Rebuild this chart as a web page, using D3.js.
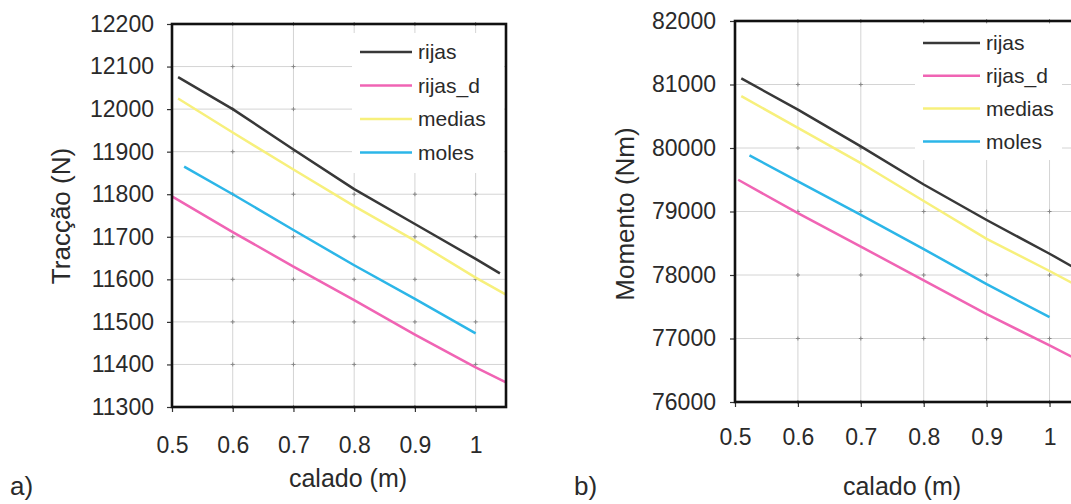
<!DOCTYPE html>
<html>
<head>
<meta charset="utf-8">
<script src="https://cdn.jsdelivr.net/npm/d3@7"></script>
<style>
  html, body { margin: 0; padding: 0; background: #fff; }
  svg { display: block; font-family: "Liberation Sans", Arial, sans-serif; }
</style>
</head>
<body>
<svg id="chart" width="1071" height="504"></svg>
<script>
// ---------- DATA ----------
const seriesNames = ["rijas", "rijas_d", "medias", "moles"];
const seriesColors = ["#383838", "#f064b4", "#f7f07c", "#2cb6e8"];
const xTickValues = [0.5, 0.6, 0.7, 0.8, 0.9, 1];
const tracTicks = [11300, 11400, 11500, 11600, 11700, 11800, 11900, 12000, 12100, 12200];
const momTicks = [76000, 77000, 78000, 79000, 80000, 81000, 82000];

// a) Tracção (N) vs calado (m)
const tracRijas  = [[0.51, 12075], [0.6, 12000], [0.7, 11905], [0.8, 11812], [0.9, 11730], [1.0, 11648], [1.04, 11614]];
const tracRijasD = [[0.5, 11795], [0.6, 11711], [0.7, 11630], [0.8, 11551], [0.9, 11470], [1.0, 11393], [1.05, 11358]];
const tracMedias = [[0.51, 12025], [0.6, 11945], [0.7, 11858], [0.8, 11772], [0.9, 11691], [1.0, 11604], [1.05, 11564]];
const tracMoles  = [[0.52, 11865], [0.6, 11800], [0.7, 11716], [0.8, 11633], [0.9, 11554], [1.0, 11473]];

// b) Momento (Nm) vs calado (m)
const momRijas  = [[0.51, 81095], [0.6, 80605], [0.7, 80026], [0.8, 79425], [0.9, 78866], [1.0, 78335], [1.05, 78055]];
const momRijasD = [[0.505, 79500], [0.6, 78974], [0.7, 78447], [0.8, 77916], [0.9, 77384], [1.0, 76890], [1.05, 76640]];
const momMedias = [[0.51, 80816], [0.6, 80316], [0.7, 79763], [0.8, 79165], [0.9, 78570], [1.0, 78063], [1.05, 77800]];
const momMoles  = [[0.523, 79884], [0.6, 79474], [0.7, 78947], [0.8, 78408], [0.9, 77855], [1.0, 77335]];

// ---------- DRAW ----------
const svg = d3.select("#chart");

function drawChart(cfg) {
  const g = svg.append("g");
  const x = d3.scaleLinear().domain([0.5, 1.05]).range([cfg.left, cfg.right]);
  const y = d3.scaleLinear().domain(cfg.yDomain).range([cfg.bottom, cfg.top]);

  // gridlines
  const grid = g.append("g");
  grid.selectAll("line.gy").data(cfg.yTicks.slice(1, -1)).join("line")
    .attr("x1", cfg.left).attr("x2", cfg.right)
    .attr("y1", d => y(d)).attr("y2", d => y(d))
    .attr("stroke", "#d4d4d4").attr("stroke-width", 1);
  grid.selectAll("line.gx").data(xTickValues.slice(1)).join("line")
    .attr("x1", d => x(d)).attr("x2", d => x(d))
    .attr("y1", cfg.top).attr("y2", cfg.bottom)
    .attr("stroke", "#d4d4d4").attr("stroke-width", 1);

  // small crosses at grid intersections
  const pts = [];
  xTickValues.slice(1).forEach(xv => cfg.yTicks.forEach(yv => pts.push([xv, yv])));
  grid.selectAll("path.cross").data(pts).join("path")
    .attr("d", d => `M${x(d[0]) - 2},${y(d[1])}h4M${x(d[0])},${y(d[1]) - 2}v4`)
    .attr("stroke", "#888").attr("stroke-width", 1);

  // legend background (hides grid)
  g.append("rect")
    .attr("x", cfg.legBox[0]).attr("y", cfg.legBox[1])
    .attr("width", cfg.legBox[2]).attr("height", cfg.legBox[3])
    .attr("fill", "#fff");

  // series
  const line = d3.line().x(d => x(d[0])).y(d => y(d[1]));
  cfg.series.forEach((s, i) => {
    g.append("path").datum(s)
      .attr("d", line)
      .attr("fill", "none")
      .attr("stroke", seriesColors[i])
      .attr("stroke-width", 2.5)
      .attr("stroke-linejoin", "round");
  });

  // axes
  const yAxis = d3.axisLeft(y).tickValues(cfg.yTicks).tickFormat(d3.format("d"))
    .tickSize(5).tickPadding(cfg.yPad);
  const ya = g.append("g").attr("transform", `translate(${cfg.left},0)`).call(yAxis);
  const xAxis = d3.axisBottom(x).tickValues(xTickValues).tickFormat(d => d === 1 ? "1" : d3.format(".1f")(d))
    .tickSize(5).tickPadding(cfg.xPad);
  const xa = g.append("g").attr("transform", `translate(0,${cfg.bottom})`).call(xAxis);
  [ya, xa].forEach(a => {
    a.select(".domain").remove();
    a.selectAll(".tick line").attr("stroke", "#333").attr("stroke-width", 1.2);
    a.selectAll(".tick text").attr("font-size", 23).attr("fill", "#2a2a2a")
      .attr("font-family", "Liberation Sans, Arial, sans-serif");
  });

  // plot frame
  g.append("rect")
    .attr("x", cfg.left).attr("y", cfg.top)
    .attr("width", cfg.right - cfg.left).attr("height", cfg.bottom - cfg.top)
    .attr("fill", "none").attr("stroke", "#111").attr("stroke-width", 2.6);

  // legend
  const leg = g.append("g");
  seriesNames.forEach((n, i) => {
    const ly = cfg.legY + i * cfg.legStep;
    leg.append("line")
      .attr("x1", cfg.legX).attr("x2", cfg.legX + cfg.legLen)
      .attr("y1", ly).attr("y2", ly)
      .attr("stroke", seriesColors[i]).attr("stroke-width", 2.5);
    leg.append("text")
      .attr("x", cfg.legX + cfg.legLen + 6).attr("y", ly)
      .attr("dy", "0.35em")
      .attr("font-size", 21).attr("fill", "#2a2a2a")
      .text(n);
  });

  // axis titles
  g.append("text")
    .attr("transform", `translate(${cfg.yTitleX},${cfg.yTitleY}) rotate(-90)`)
    .attr("text-anchor", "middle").attr("dy", "0.35em")
    .attr("font-size", 26).attr("fill", "#2a2a2a")
    .text(cfg.yTitle);
  g.append("text")
    .attr("x", cfg.xTitleX).attr("y", cfg.xTitleY)
    .attr("text-anchor", "middle")
    .attr("font-size", 25).attr("fill", "#2a2a2a")
    .text("calado (m)");
  g.append("text")
    .attr("x", cfg.panelX).attr("y", cfg.panelY)
    .attr("font-size", 26).attr("fill", "#2a2a2a")
    .text(cfg.panel);
}

drawChart({
  left: 172, right: 506, top: 24, bottom: 407,
  yDomain: [11300, 12200], yTicks: tracTicks,
  series: [tracRijas, tracRijasD, tracMedias, tracMoles],
  yPad: 13, xPad: 25,
  legBox: [352, 33, 152, 140], legX: 360, legY: 52, legLen: 52, legStep: 33.5,
  yTitle: "Tracção (N)", yTitleX: 61, yTitleY: 216,
  xTitleX: 348, xTitleY: 487,
  panel: "a)", panelX: 10, panelY: 495
});

drawChart({
  left: 735, right: 1081, top: 21, bottom: 402,
  yDomain: [76000, 82000], yTicks: momTicks,
  series: [momRijas, momRijasD, momMedias, momMoles],
  yPad: 14, xPad: 22,
  legBox: [915, 24, 147, 136], legX: 923, legY: 43, legLen: 57, legStep: 32.8,
  yTitle: "Momento (Nm)", yTitleX: 625, yTitleY: 214,
  xTitleX: 902, xTitleY: 495,
  panel: "b)", panelX: 574, panelY: 495
});
</script>
</body>
</html>
